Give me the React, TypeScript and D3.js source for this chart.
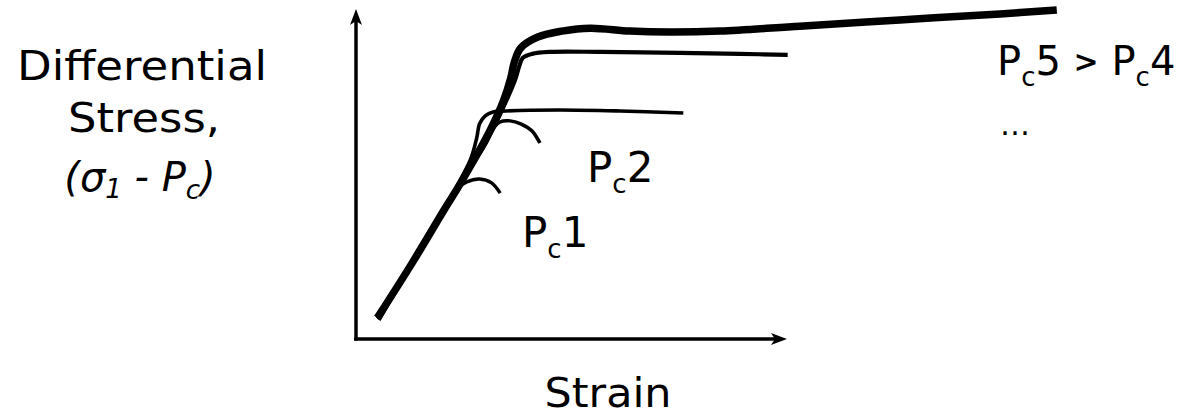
import React from 'react';
import * as d3 from 'd3';

const W = 1180;
const H = 417;

// Strain (arbitrary units) and differential stress (arbitrary units)
const pc5Strain = [3.0, 7.9, 12.4, 14.5, 18.9, 20.8, 21.8, 22.3, 23.2, 25.6, 29.0, 33.0, 38.6, 44.2, 51.3, 62.5, 76.6, 90.7, 98.7];
const pc5Stress = [6.4, 23.0, 39.1, 46.4, 63.3, 72.4, 79.1, 83.9, 88.2, 91.5, 93.3, 94.2, 93.3, 93.0, 93.3, 94.8, 96.7, 98.5, 99.7];

const pc4Strain = [3.2, 7.9, 12.4, 14.5, 19.1, 21.2, 22.4, 23.0, 23.5, 24.8, 27.3, 34.4, 45.6, 54.1, 60.8];
const pc4Stress = [5.8, 23.0, 39.1, 46.4, 63.0, 72.4, 78.5, 82.7, 85.2, 86.4, 87.0, 87.0, 86.7, 86.4, 86.1];

const pc3Strain = [3.0, 7.9, 12.4, 14.4, 16.2, 17.0, 17.4, 18.2, 19.3, 21.1, 28.7, 37.2, 46.1];
const pc3Stress = [6.4, 23.0, 39.1, 47.0, 54.8, 60.9, 65.2, 67.6, 68.8, 69.1, 69.4, 69.1, 68.5];

const pc2Strain = [3.0, 7.9, 12.4, 14.5, 18.2, 19.6, 20.3, 21.7, 23.2, 24.8, 25.9];
const pc2Stress = [6.4, 23.0, 39.1, 46.4, 58.8, 64.5, 65.8, 66.1, 65.2, 63.0, 59.4];

const pc1Strain = [3.0, 7.9, 12.4, 14.4, 15.6, 17.4, 19.1, 20.3];
const pc1Stress = [6.4, 23.0, 39.1, 45.8, 47.6, 48.5, 47.3, 44.2];

const curveNames = ['Pc5', 'Pc4', 'Pc3', 'Pc2', 'Pc1'];
const curveStrains = [pc5Strain, pc4Strain, pc3Strain, pc2Strain, pc1Strain];
const curveStresses = [pc5Stress, pc4Stress, pc3Stress, pc2Stress, pc1Stress];
const curveWidths = [7.5, 4.2, 3.6, 3.5, 3.5];

const xAxisMax = 60.7;
const yAxisMax = 100;

const FONT = "'DejaVu Sans', 'Noto Sans', sans-serif";

export default function App() {
  const x = d3.scaleLinear().domain([0, 100]).range([356, 1066]);
  const y = d3.scaleLinear().domain([0, 100]).range([339, 9]);

  const line = d3
    .line<[number, number]>()
    .x((d) => x(d[0]))
    .y((d) => y(d[1]))
    .curve(d3.curveCatmullRom.alpha(0.5));

  const x0 = x(0);
  const y0 = y(0);
  const xEnd = x(xAxisMax);
  const yEnd = y(yAxisMax);
  const ah = 16; // arrow length
  const aw = 6; // arrow half width

  const upArrow = `M${x0},${yEnd} L${x0 + aw},${yEnd + ah} L${x0},${yEnd + ah - 4} L${x0 - aw},${yEnd + ah} Z`;
  const rightArrow = `M${xEnd},${y0} L${xEnd - ah},${y0 - aw} L${xEnd - ah + 4},${y0} L${xEnd - ah},${y0 + aw} Z`;

  const textStyle: React.CSSProperties = { fontFamily: FONT, fill: '#000' };

  return (
    <svg
      width={W}
      height={H}
      viewBox={`0 0 ${W} ${H}`}
      style={{ position: 'absolute', left: 0, top: 0, background: '#fff' }}
    >
      <rect x={0} y={0} width={W} height={H} fill="#fff" />
      {/* axes */}
      <line x1={x0} y1={y0 + 1.75} x2={x0} y2={yEnd + 8} stroke="#000" strokeWidth={3.5} />
      <line x1={x0 - 1.75} y1={y0} x2={xEnd - 8} y2={y0} stroke="#000" strokeWidth={3.5} />
      <path d={upArrow} fill="#000" />
      <path d={rightArrow} fill="#000" />

      {/* curves */}
      {curveNames.map((name, i) => {
        const pts: [number, number][] = curveStrains[i].map((s, j) => [s, curveStresses[i][j]]);
        return (
          <path
            key={name}
            d={line(pts) || ''}
            fill="none"
            stroke="#000"
            strokeWidth={curveWidths[i]}
            strokeLinecap="butt"
            strokeLinejoin="round"
          />
        );
      })}

      {/* y label */}
      <text x={142} y={80} textAnchor="middle" fontSize={41} style={textStyle} textLength={250} lengthAdjust="spacingAndGlyphs">
        Differential
      </text>
      <text x={144} y={132} textAnchor="middle" fontSize={41} style={textStyle} textLength={152} lengthAdjust="spacingAndGlyphs">
        Stress,
      </text>
      <text x={140} y={191} textAnchor="middle" fontSize={40} fontStyle="italic" style={textStyle}>
        <tspan>(σ</tspan>
        <tspan fontSize={26} dy={7}>1</tspan>
        <tspan dy={-7}> - P</tspan>
        <tspan fontSize={26} dy={8}>c</tspan>
        <tspan dy={-8}>)</tspan>
      </text>

      {/* x label */}
      <text x={608} y={407} textAnchor="middle" fontSize={40} style={textStyle} textLength={127} lengthAdjust="spacingAndGlyphs">
        Strain
      </text>

      {/* curve labels */}
      <text x={522} y={247} fontSize={42} style={textStyle}>
        <tspan>P</tspan>
        <tspan fontSize={26} dy={11}>c</tspan>
        <tspan dy={-11}>1</tspan>
      </text>
      <text x={587} y={182} fontSize={42} style={textStyle}>
        <tspan>P</tspan>
        <tspan fontSize={26} dy={11}>c</tspan>
        <tspan dy={-11}>2</tspan>
      </text>
      <text x={997} y={75} fontSize={40} style={textStyle}>
        <tspan>P</tspan>
        <tspan fontSize={26} dy={11}>c</tspan>
        <tspan dy={-11}>5 </tspan>
        <tspan fontSize={30} fontWeight="bold" dy={-3}>&gt;</tspan>
        <tspan dy={3}> P</tspan>
        <tspan fontSize={26} dy={11}>c</tspan>
        <tspan dy={-11}>4</tspan>
      </text>
      <text x={1000} y={135} fontSize={30} style={textStyle}>
        …
      </text>
    </svg>
  );
}
